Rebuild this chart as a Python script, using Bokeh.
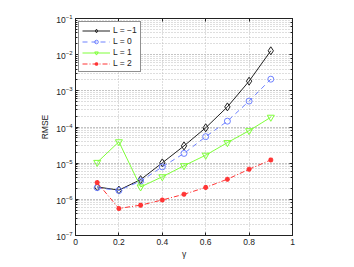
from bokeh.plotting import figure
from bokeh.models import (Range1d, LogAxis, LinearAxis, FixedTicker, Legend, LegendItem,
                          LogTicker, CustomJSTickFormatter)
from bokeh.embed import file_html
from bokeh.resources import INLINE

gamma = [0.1, 0.2, 0.3, 0.4, 0.5, 0.6, 0.7, 0.8, 0.9]
rmse_m1 = [2.2e-6, 1.8e-6, 3.5e-6, 1.02e-5, 3.0e-5, 9.5e-5, 3.6e-4, 1.85e-3, 1.28e-2]
rmse_0 = [2.1e-6, 1.75e-6, 3.2e-6, 7.9e-6, 1.86e-5, 5.4e-5, 1.45e-4, 5.2e-4, 2.1e-3]
rmse_1 = [1.05e-5, 3.9e-5, 2.2e-6, 4.2e-6, 8.5e-6, 1.66e-5, 3.7e-5, 7.9e-5, 1.86e-4]
rmse_2 = [2.9e-6, 5.6e-7, 6.9e-7, 9.6e-7, 1.38e-6, 2.14e-6, 3.6e-6, 6.8e-6, 1.23e-5]
labels = ["L = \u22121", "L = 0", "L = 1", "L = 2"]
x_ticks = [0, 0.2, 0.4, 0.6, 0.8, 1]

FONT = "Liberation Sans"
FS = "8.5px"

p = figure(frame_width=217, frame_height=217, y_axis_type="log",
           x_range=Range1d(0, 1), y_range=Range1d(1e-7, 1e-1),
           output_backend="svg", toolbar_location=None,
           min_border_left=75, min_border_top=18, min_border_right=54, min_border_bottom=20)
p.background_fill_color = "white"
p.border_fill_color = "white"
p.outline_line_color = "#222222"
p.outline_line_width = 1

# axes styling
for ax in [p.xaxis[0], p.yaxis[0]]:
    ax.major_tick_in = 3
    ax.major_tick_out = 0
    ax.minor_tick_in = 2
    ax.minor_tick_out = 0
    ax.axis_line_color = "#222222"
    ax.major_tick_line_color = "#222222"
    ax.minor_tick_line_color = "#222222"
    ax.major_label_text_font = FONT
    ax.major_label_text_font_size = FS
    ax.major_label_text_color = "#222222"
    ax.axis_label_text_font = FONT
    ax.axis_label_text_font_size = FS
    ax.axis_label_text_font_style = "normal"
    ax.axis_label_text_color = "#222222"

p.xaxis.ticker = FixedTicker(ticks=x_ticks)
p.xaxis.minor_tick_line_color = None
p.xaxis.major_label_standoff = 3
p.xaxis.axis_label = "\u03b3"
p.xaxis.axis_label_standoff = 1
p.yaxis.axis_label = "RMSE"
p.yaxis.axis_label_standoff = 3
p.yaxis.major_label_standoff = 3

# mirrored axes (box on), ticks only
top = LinearAxis(ticker=FixedTicker(ticks=x_ticks), formatter=CustomJSTickFormatter(code="return ''"),
                 major_tick_in=3, major_tick_out=0, minor_tick_line_color=None,
                 axis_line_color="#222222", major_tick_line_color="#222222")
right = LogAxis(ticker=LogTicker(), formatter=CustomJSTickFormatter(code="return ''"),
                major_tick_in=3, major_tick_out=0, minor_tick_in=2, minor_tick_out=0,
                axis_line_color="#222222", major_tick_line_color="#222222",
                minor_tick_line_color="#222222")
p.add_layout(top, "above")
p.add_layout(right, "right")

# grid
GC = "#bdbdbd"
p.xgrid.grid_line_color = GC
p.xgrid.grid_line_dash = "1 2"
p.xgrid.grid_line_width = 1
p.xgrid.ticker = FixedTicker(ticks=x_ticks)
p.ygrid.grid_line_color = GC
p.ygrid.grid_line_dash = "1 2"
p.ygrid.minor_grid_line_color = GC
p.ygrid.minor_grid_line_dash = "1 2"

c_k = "#222222"
c_b = "#6f82ff"
c_g = "#7fff3a"
c_r = "#ff3535"

l1 = p.line(gamma, rmse_m1, line_color=c_k, line_width=1)
m1 = p.scatter(gamma, rmse_m1, marker="diamond", size=8, fill_color=None, line_color=c_k)
l2 = p.line(gamma, rmse_0, line_color=c_b, line_width=1, line_dash="5 4")
m2 = p.scatter(gamma, rmse_0, marker="circle", size=6, fill_color=None, line_color=c_b)
l3 = p.line(gamma, rmse_1, line_color=c_g, line_width=1)
m3 = p.scatter(gamma, rmse_1, marker="inverted_triangle", size=7, fill_color=None, line_color=c_g)
l4 = p.line(gamma, rmse_2, line_color=c_r, line_width=1, line_dash="5 2 1 2")
m4 = p.scatter(gamma, rmse_2, marker="asterisk", size=5, fill_color=None, line_color=c_r, line_width=1.5)

legend = Legend(items=[LegendItem(label=labels[0], renderers=[l1, m1]),
                       LegendItem(label=labels[1], renderers=[l2, m2]),
                       LegendItem(label=labels[2], renderers=[l3, m3]),
                       LegendItem(label=labels[3], renderers=[l4, m4])],
                location="top_left")
legend.label_text_font = FONT
legend.label_text_font_size = FS
legend.label_text_color = "#222222"
legend.glyph_width = 28
legend.glyph_height = 9
legend.label_height = 9
legend.label_standoff = 3
legend.spacing = 1
legend.padding = 3
legend.margin = 3
legend.border_line_color = "#222222"
legend.border_line_width = 1
legend.background_fill_alpha = 1
p.add_layout(legend)

open("out.html", "w").write(file_html(p, INLINE))
